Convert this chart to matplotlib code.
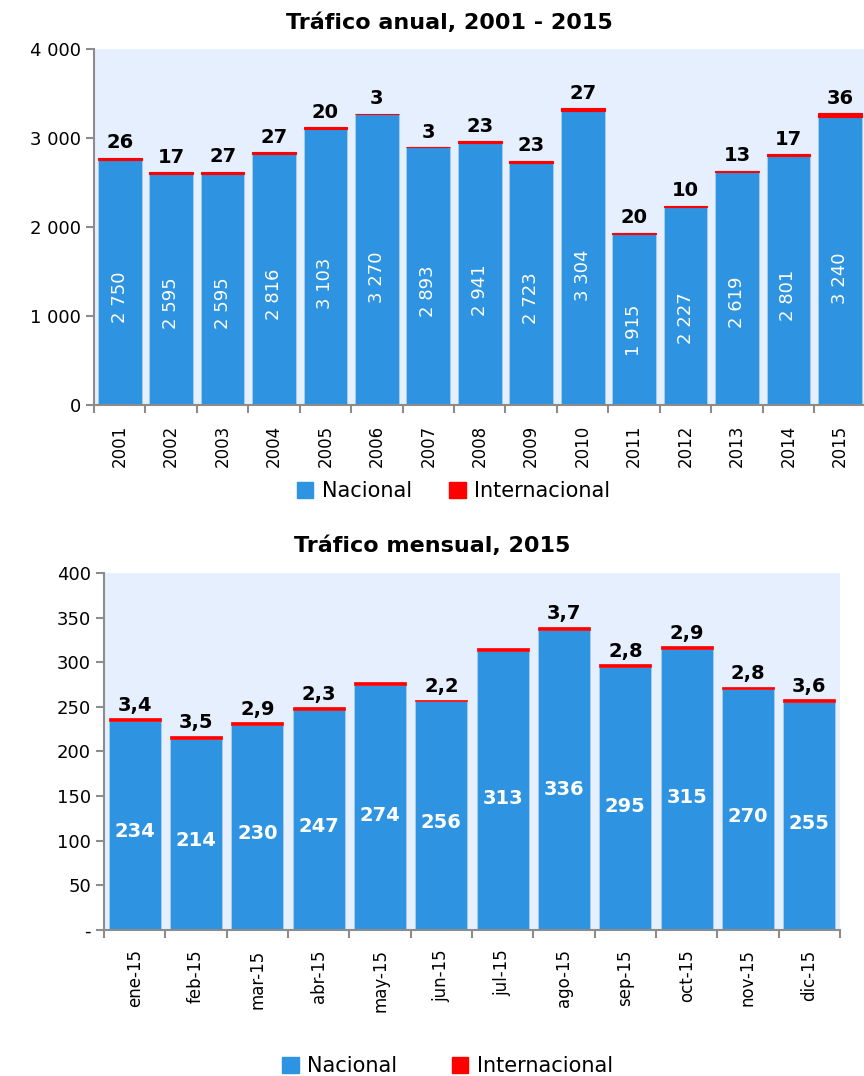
import matplotlib.pyplot as plt
import numpy as np
from matplotlib.patches import Patch

plt.rcParams['font.family'] = ['DejaVu Sans']

## datos anuales
years = ['2001', '2002', '2003', '2004', '2005', '2006', '2007', '2008',
         '2009', '2010', '2011', '2012', '2013', '2014', '2015']
nac_anual = [2750, 2595, 2595, 2816, 3103, 3270, 2893, 2941,
             2723, 3304, 1915, 2227, 2619, 2801, 3240]
int_anual = [26, 17, 27, 27, 20, 3, 3, 23, 23, 27, 20, 10, 13, 17, 36]

## datos mensuales 2015
months = ['ene-15', 'feb-15', 'mar-15', 'abr-15', 'may-15', 'jun-15',
          'jul-15', 'ago-15', 'sep-15', 'oct-15', 'nov-15', 'dic-15']
nac_mes = [234, 214, 230, 247, 274, 256, 313, 336, 295, 315, 270, 255]
int_mes = [3.4, 3.5, 2.9, 2.3, 3.3, 2.2, 3.1, 3.7, 2.8, 2.9, 2.8, 3.6]
int_mes_lbl = ['3,4', '3,5', '2,9', '2,3', '', '2,2', '', '3,7', '2,8', '2,9', '2,8', '3,6']

blue = '#2e93e0'
red = '#ff0000'
bg = '#e6effd'
spine = '#8c8c8c'

fig = plt.figure(figsize=(8.64, 10.76), dpi=100)


def style_axes(ax, n, labels):
	ax.set_facecolor(bg)
	for s in ['top', 'right']:
		ax.spines[s].set_visible(False)
	for s in ['left', 'bottom']:
		ax.spines[s].set_color(spine)
		ax.spines[s].set_linewidth(1.5)
	ax.set_xlim(-0.5, n - 0.5)
	ax.set_xticks(np.arange(n))
	ax.set_xticklabels(labels, rotation=90, fontsize=12)
	ax.set_xticks(np.arange(n + 1) - 0.5, minor=True)
	ax.tick_params(axis='x', which='major', length=0, pad=14)
	ax.tick_params(axis='x', which='minor', length=6, color=spine, width=1.5)
	ax.tick_params(axis='y', length=6, color=spine, width=1.5, labelsize=13)


## grafico anual
ax1 = fig.add_axes([0.1088, 0.6236, 0.893, 0.331])
x1 = np.arange(len(years))
ax1.bar(x1, nac_anual, width=0.85, color=blue, edgecolor='#a9cdf0', linewidth=0.6)
ax1.bar(x1, int_anual, width=0.85, bottom=nac_anual, color=red, edgecolor=red, linewidth=0.8)
style_axes(ax1, len(years), years)
ax1.set_ylim(0, 4000)
ax1.set_yticks(range(0, 4001, 1000))
ax1.set_yticklabels(['0', '1 000', '2 000', '3 000', '4 000'])
for i in range(len(years)):
	ax1.text(i, nac_anual[i] + int_anual[i] + 60, str(int_anual[i]), ha='center', va='bottom',
			 fontsize=14, fontweight='bold')
	lbl = '{:,}'.format(nac_anual[i]).replace(',', ' ')
	ax1.text(i, nac_anual[i] * 0.44, lbl, ha='center', va='center', rotation=90,
			 fontsize=13, color='white')
fig.text(0.52, 0.979, 'Tráfico anual, 2001 - 2015', ha='center', va='center',
		 fontsize=16, fontweight='bold')

handles = [Patch(color=blue, label='Nacional'), Patch(color=red, label='Internacional')]
fig.legend(handles=handles, loc='center', bbox_to_anchor=(0.525, 0.5435), ncol=2,
		   frameon=False, fontsize=15, handlelength=0.8, handleheight=0.8,
		   handletextpad=0.4, columnspacing=1.8)

## grafico mensual
ax2 = fig.add_axes([0.1204, 0.1357, 0.8518, 0.3318])
x2 = np.arange(len(months))
ax2.bar(x2, nac_mes, width=0.85, color=blue, edgecolor='#a9cdf0', linewidth=0.6)
ax2.bar(x2, int_mes, width=0.85, bottom=nac_mes, color=red, edgecolor=red, linewidth=0.5)
style_axes(ax2, len(months), months)
ax2.set_ylim(0, 400)
ax2.set_yticks(range(0, 401, 50))
ax2.set_yticklabels(['-'] + [str(v) for v in range(50, 401, 50)])
for i in range(len(months)):
	if int_mes_lbl[i]:
		ax2.text(i, nac_mes[i] + int_mes[i] + 4, int_mes_lbl[i], ha='center', va='bottom',
				 fontsize=14, fontweight='bold')
	ax2.text(i, nac_mes[i] * 0.47, str(nac_mes[i]), ha='center', va='center',
			 fontsize=14, fontweight='bold', color='white')
fig.text(0.5, 0.493, 'Tráfico mensual, 2015', ha='center', va='center',
		 fontsize=16, fontweight='bold')

fig.legend(handles=handles, loc='center', bbox_to_anchor=(0.518, 0.009), ncol=2,
		   frameon=False, fontsize=15, handlelength=0.8, handleheight=0.8,
		   handletextpad=0.4, columnspacing=2.6)

plt.savefig('out.png', dpi=100)
